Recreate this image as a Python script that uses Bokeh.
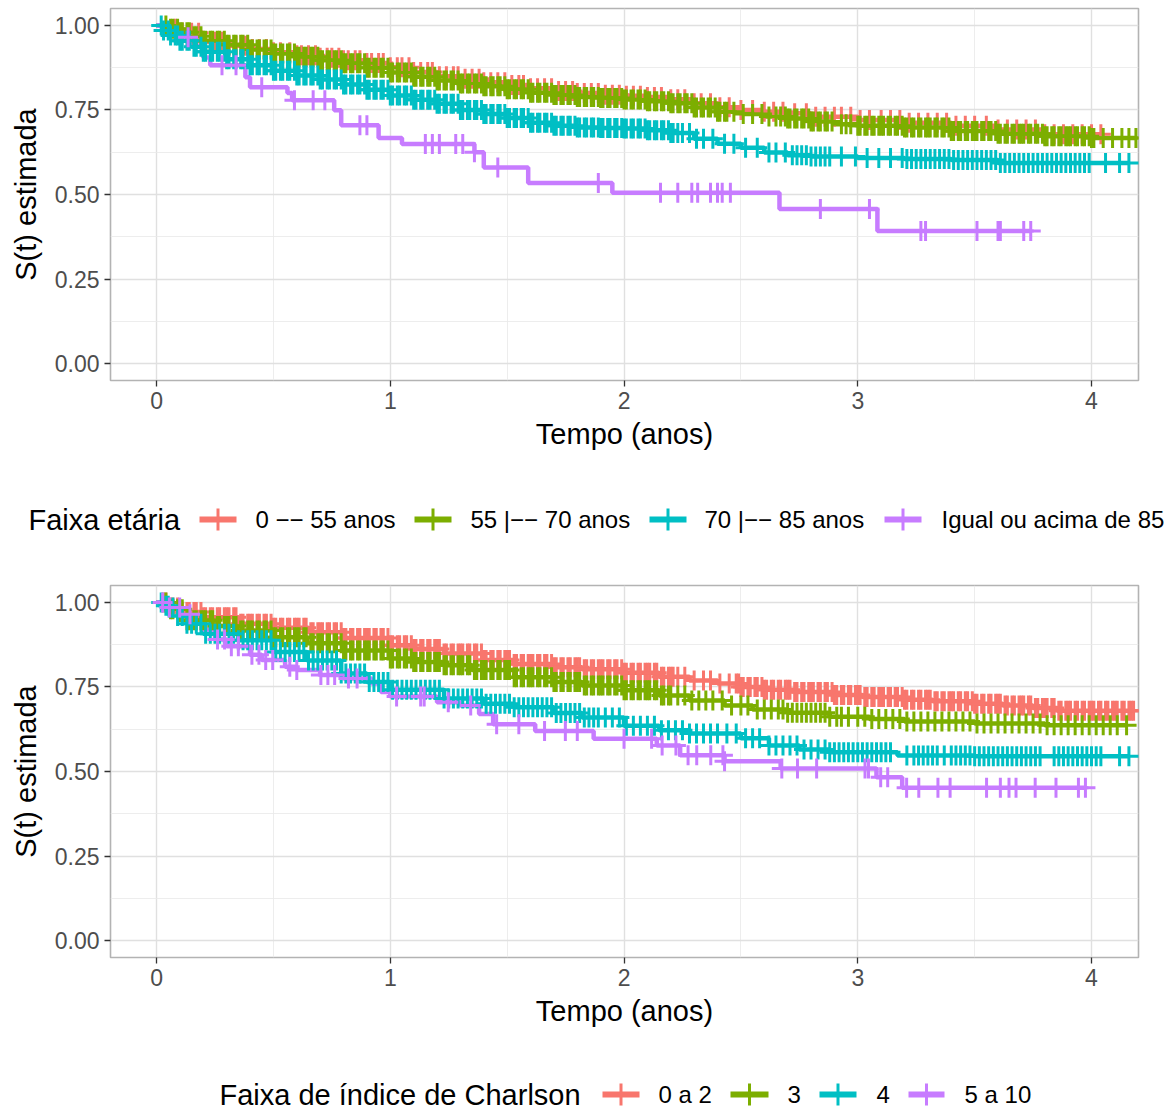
import numpy as np
from bokeh.plotting import figure
from bokeh.models import Range1d, FixedTicker, NumeralTickFormatter
from bokeh.layouts import column
from bokeh.embed import file_html
from bokeh.resources import INLINE
from bokeh.core.properties import value

FONT = "Liberation Sans"
COLORS = ["#F8766D", "#7CAE00", "#00BFC4", "#C77CFF"]

X_TICKS = [0, 1, 2, 3, 4]
Y_TICKS = [0.0, 0.25, 0.5, 0.75, 1.0]

# ---------------- Panel 1: Faixa etária ----------------
AGE_TITLE = "Faixa etária"
AGE_LABELS = ["0 \u2212\u2212 55 anos", "55 |\u2212\u2212 70 anos", "70 |\u2212\u2212 85 anos",
              "Igual ou acima de 85 anos"]

R1_T = [0, 0.05, 0.1, 0.2, 0.3, 0.4, 0.5, 0.6, 0.7, 0.8, 0.9, 1.0, 1.1, 1.2, 1.3, 1.4, 1.5, 1.6, 1.7, 1.8,
        1.9, 2.0, 2.1, 2.2, 2.3, 2.4, 2.5, 2.6, 2.7, 2.8, 3.0, 3.2, 3.4, 3.6, 3.8]
R1_S = [1, 0.99, 0.978, 0.952, 0.94, 0.93, 0.921, 0.912, 0.904, 0.897, 0.889, 0.876, 0.862, 0.85, 0.842, 0.832,
        0.824, 0.814, 0.806, 0.8, 0.795, 0.792, 0.788, 0.782, 0.77, 0.758, 0.75, 0.745, 0.74, 0.73, 0.72, 0.712,
        0.703, 0.692, 0.678]
R1_END = 4.04
R1_C = [0.08, 0.11, 0.15, 0.18, 0.21, 0.25, 0.28, 0.31, 0.34, 0.38, 0.41, 0.44, 0.47, 0.5, 0.53, 0.57, 0.6, 0.62,
        0.65, 0.68, 0.7, 0.73, 0.75, 0.78, 0.8, 0.82, 0.85, 0.87, 0.9, 0.92, 0.95, 0.97, 1.0, 1.03, 1.05, 1.08,
        1.1, 1.13, 1.16, 1.18, 1.21, 1.24, 1.27, 1.29, 1.32, 1.35, 1.38, 1.4, 1.43, 1.46, 1.49, 1.52, 1.55, 1.57,
        1.6, 1.63, 1.66, 1.69, 1.72, 1.75, 1.78, 1.8, 1.83, 1.86, 1.89, 1.92, 1.95, 1.98, 2.01, 2.04, 2.07, 2.1,
        2.13, 2.16, 2.2, 2.23, 2.26, 2.3, 2.33, 2.37, 2.41, 2.45, 2.5, 2.55, 2.6, 2.64, 2.68, 2.73, 2.78, 2.82,
        2.86, 2.9, 2.93, 2.97, 3.01, 3.05, 3.1, 3.14, 3.18, 3.22, 3.26, 3.3, 3.34, 3.38, 3.42, 3.46, 3.5, 3.55,
        3.6, 3.64, 3.68, 3.72, 3.76, 3.8, 3.84, 3.88, 3.92, 3.96, 4.0, 4.04]

G1_T = [0, 0.05, 0.1, 0.15, 0.2, 0.3, 0.4, 0.5, 0.6, 0.7, 0.8, 0.9, 1.0, 1.1, 1.2, 1.3, 1.4, 1.5, 1.6, 1.7, 1.8,
        1.9, 2.0, 2.1, 2.2, 2.3, 2.4, 2.5, 2.6, 2.7, 2.8, 2.9, 3.0, 3.2, 3.4, 3.6, 3.8, 4.0]
G1_S = [1, 0.99, 0.98, 0.968, 0.955, 0.943, 0.929, 0.917, 0.907, 0.897, 0.888, 0.875, 0.861, 0.848, 0.837, 0.828,
        0.82, 0.811, 0.801, 0.794, 0.788, 0.785, 0.781, 0.776, 0.77, 0.757, 0.745, 0.738, 0.731, 0.725, 0.716,
        0.708, 0.703, 0.698, 0.688, 0.68, 0.672, 0.667]
G1_END = 4.19
G1_C = [0.04, 0.06, 0.07, 0.09,
        0.1, 0.11, 0.13, 0.14, 0.16, 0.17, 0.19, 0.2, 0.21, 0.23, 0.24, 0.26, 0.27, 0.29,
        0.3, 0.31, 0.33, 0.34, 0.36, 0.37, 0.39, 0.4, 0.41, 0.43, 0.44, 0.46, 0.47, 0.49,
        0.5, 0.51, 0.53, 0.54, 0.56, 0.57, 0.59, 0.6, 0.61, 0.63, 0.64, 0.66, 0.67, 0.69,
        0.7, 0.71, 0.73, 0.74, 0.76, 0.77, 0.79, 0.8, 0.81, 0.83, 0.84, 0.86, 0.87, 0.89,
        0.9, 0.91, 0.93, 0.94, 0.96, 0.97, 0.99, 1.0, 1.01, 1.03, 1.04, 1.06, 1.07, 1.09,
        1.1, 1.11, 1.13, 1.14, 1.16, 1.17, 1.19, 1.2, 1.21, 1.23, 1.24, 1.26, 1.27, 1.29,
        1.3, 1.31, 1.33, 1.34, 1.36, 1.37, 1.39, 1.4, 1.41, 1.43, 1.44, 1.46, 1.47, 1.49,
        1.5, 1.51, 1.53, 1.54, 1.56, 1.57, 1.59, 1.6, 1.61, 1.63, 1.64, 1.66, 1.67, 1.69,
        1.7, 1.71, 1.73, 1.74, 1.76, 1.77, 1.79, 1.8, 1.81, 1.83, 1.84, 1.86, 1.87, 1.89,
        1.9, 1.91, 1.93, 1.94, 1.96, 1.97, 1.99, 2.0, 2.01, 2.03, 2.04, 2.06, 2.07, 2.09,
        2.1, 2.11, 2.13, 2.14, 2.16, 2.17, 2.19, 2.2, 2.21, 2.23, 2.24, 2.26, 2.27, 2.29,
        2.3, 2.31, 2.33, 2.34, 2.36, 2.37, 2.39, 2.4, 2.41, 2.43, 2.44, 2.47, 2.51, 2.55, 2.59, 2.62, 2.65,
        2.67, 2.69, 2.7, 2.71, 2.73, 2.74, 2.76, 2.77, 2.79, 2.8, 2.81, 2.83, 2.84, 2.86, 2.87, 2.89, 2.93,
        2.95, 2.97, 3.0, 3.01, 3.03, 3.04, 3.06, 3.07, 3.09, 3.1, 3.11, 3.13, 3.14, 3.16, 3.17, 3.19,
        3.2, 3.21, 3.23, 3.24, 3.26, 3.27, 3.29, 3.3, 3.31, 3.33, 3.34, 3.36, 3.37, 3.39,
        3.4, 3.41, 3.43, 3.44, 3.46, 3.47, 3.49, 3.5, 3.51, 3.53, 3.54, 3.56, 3.57, 3.59,
        3.6, 3.61, 3.63, 3.64, 3.66, 3.67, 3.69, 3.7, 3.71, 3.73, 3.74, 3.76, 3.77, 3.79,
        3.8, 3.81, 3.83, 3.84, 3.86, 3.87, 3.89, 3.9, 3.91, 3.93, 3.94, 3.96, 3.97, 3.99,
        4.0, 4.01, 4.05, 4.09, 4.13, 4.16, 4.19]

T1_T = [0, 0.03, 0.06, 0.1, 0.15, 0.2, 0.3, 0.4, 0.5, 0.6, 0.7, 0.8, 0.9, 1.0, 1.1, 1.2, 1.3, 1.4, 1.5, 1.6, 1.7,
        1.8, 1.9, 2.0, 2.1, 2.2, 2.3, 2.4, 2.5, 2.6, 2.7, 2.8, 3.0, 3.2, 3.4, 3.6]
T1_S = [1, 0.985, 0.97, 0.955, 0.937, 0.922, 0.9, 0.882, 0.866, 0.852, 0.84, 0.825, 0.81, 0.793, 0.78, 0.768,
        0.75, 0.738, 0.726, 0.712, 0.703, 0.698, 0.697, 0.695, 0.69, 0.682, 0.665, 0.65, 0.638, 0.624, 0.616,
        0.612, 0.608, 0.605, 0.602, 0.593]
T1_END = 4.16
T1_C = [0.02, 0.03, 0.05, 0.06, 0.08, 0.09,
        0.1, 0.11, 0.13, 0.14, 0.16, 0.17, 0.19, 0.2, 0.21, 0.23, 0.24, 0.26, 0.27, 0.29,
        0.3, 0.31, 0.33, 0.34, 0.36, 0.37, 0.39, 0.4, 0.41, 0.43, 0.44, 0.46, 0.47, 0.49,
        0.5, 0.51, 0.53, 0.54, 0.56, 0.57, 0.59, 0.6, 0.61, 0.63, 0.64, 0.66, 0.67, 0.69,
        0.7, 0.71, 0.73, 0.74, 0.76, 0.77, 0.79, 0.8, 0.81, 0.83, 0.84, 0.86, 0.87, 0.89,
        0.9, 0.91, 0.93, 0.94, 0.96, 0.97, 0.99, 1.0, 1.01, 1.03, 1.04, 1.06, 1.07, 1.09,
        1.1, 1.11, 1.13, 1.14, 1.16, 1.17, 1.19, 1.2, 1.21, 1.23, 1.24, 1.26, 1.27, 1.29,
        1.3, 1.31, 1.33, 1.34, 1.36, 1.37, 1.39, 1.4, 1.41, 1.43, 1.44, 1.46, 1.47, 1.49,
        1.5, 1.51, 1.53, 1.54, 1.56, 1.57, 1.59, 1.6, 1.61, 1.63, 1.64, 1.66, 1.67, 1.69,
        1.7, 1.71, 1.73, 1.74, 1.76, 1.77, 1.79, 1.8, 1.81, 1.83, 1.84, 1.86, 1.87, 1.89,
        1.9, 1.91, 1.93, 1.94, 1.96, 1.97, 1.99, 2.0, 2.01, 2.03, 2.04, 2.06, 2.07, 2.09,
        2.1, 2.11, 2.13, 2.14, 2.16, 2.17, 2.19, 2.2, 2.21, 2.23, 2.25,
        2.28, 2.31, 2.34, 2.38, 2.43, 2.47, 2.52, 2.57, 2.62, 2.65, 2.69, 2.72, 2.74, 2.76, 2.78, 2.8,
        2.82, 2.84, 2.86, 2.88, 2.93, 2.99, 3.04, 3.09, 3.14, 3.19, 3.21, 3.23, 3.25, 3.27, 3.29, 3.31, 3.33, 3.35,
        3.37, 3.39, 3.41, 3.43, 3.45, 3.47, 3.49, 3.51, 3.53, 3.55, 3.57, 3.59, 3.61, 3.63, 3.65, 3.67, 3.69, 3.71,
        3.73, 3.75, 3.77, 3.79, 3.81, 3.83, 3.85, 3.87, 3.89, 3.91, 3.93, 3.95, 3.97, 3.99, 4.06, 4.12, 4.16]

P1_T = [0, 0.05, 0.1, 0.16, 0.2, 0.23, 0.38, 0.4, 0.56, 0.58, 0.76, 0.79, 0.95, 1.05, 1.36, 1.4, 1.59, 1.95,
        2.665, 3.084]
P1_S = [1, 0.985, 0.965, 0.94, 0.905, 0.882, 0.847, 0.817, 0.8, 0.779, 0.749, 0.705, 0.667, 0.649, 0.625, 0.58,
        0.534, 0.505, 0.457, 0.392]
P1_END = 3.74
P1_C = [0.135, 0.28, 0.34, 0.45, 0.59, 0.67, 0.72, 0.87, 0.9, 1.15, 1.18, 1.21, 1.28, 1.31, 1.36, 1.46, 1.89, 2.156,
        2.23, 2.29, 2.315, 2.37, 2.4, 2.42, 2.455, 2.84, 3.05, 3.27, 3.29, 3.51, 3.6, 3.61, 3.71, 3.74]

# ---------------- Panel 2: Faixa de índice de Charlson ----------------
CH_TITLE = "Faixa de índice de Charlson"
CH_LABELS = ["0 a 2", "3", "4", "5 a 10"]

R2_T = [0, 0.05, 0.1, 0.2, 0.35, 0.5, 0.65, 0.8, 1.0, 1.1, 1.23, 1.4, 1.53, 1.7, 1.82, 2.0, 2.15, 2.28, 2.4, 2.5,
        2.6, 2.73, 2.9, 3.02, 3.2, 3.32, 3.5, 3.62, 3.75, 3.855]
R2_S = [1, 0.985, 0.972, 0.956, 0.937, 0.925, 0.912, 0.895, 0.873, 0.862, 0.849, 0.83, 0.818, 0.808, 0.802, 0.792,
        0.78, 0.769, 0.76, 0.75, 0.742, 0.735, 0.726, 0.72, 0.712, 0.708, 0.7, 0.695, 0.688, 0.68]
R2_END = 4.18
R2_C = [0.03, 0.04, 0.06, 0.07, 0.09,
        0.1, 0.11, 0.13, 0.14, 0.16, 0.17, 0.19, 0.2, 0.21, 0.23, 0.24, 0.26, 0.27, 0.29,
        0.3, 0.31, 0.33, 0.34, 0.36, 0.37, 0.39, 0.4, 0.41, 0.43, 0.44, 0.46, 0.47, 0.49,
        0.5, 0.51, 0.53, 0.54, 0.56, 0.57, 0.59, 0.6, 0.61, 0.63, 0.64, 0.66, 0.67, 0.69,
        0.7, 0.71, 0.73, 0.74, 0.76, 0.77, 0.79, 0.8, 0.81, 0.83, 0.84, 0.86, 0.87, 0.89,
        0.9, 0.91, 0.93, 0.94, 0.96, 0.97, 0.99, 1.0, 1.01, 1.03, 1.04, 1.06, 1.07, 1.09,
        1.1, 1.11, 1.13, 1.14, 1.16, 1.17, 1.19, 1.2, 1.21, 1.23, 1.24, 1.26, 1.27, 1.29,
        1.3, 1.31, 1.33, 1.34, 1.36, 1.37, 1.39, 1.4, 1.41, 1.43, 1.44, 1.46, 1.47, 1.49,
        1.5, 1.51, 1.53, 1.54, 1.56, 1.57, 1.59, 1.6, 1.61, 1.63, 1.64, 1.66, 1.67, 1.69,
        1.7, 1.71, 1.73, 1.74, 1.76, 1.77, 1.79, 1.8, 1.81, 1.83, 1.84, 1.86, 1.87, 1.89,
        1.9, 1.91, 1.93, 1.94, 1.96, 1.97, 1.99, 2.0, 2.01, 2.03, 2.04, 2.06, 2.07, 2.09,
        2.1, 2.11, 2.13, 2.14, 2.16, 2.17, 2.19, 2.2, 2.21, 2.23,
        2.26, 2.3, 2.34, 2.37, 2.41, 2.45, 2.48, 2.49,
        2.5, 2.51, 2.53, 2.54, 2.56, 2.57, 2.59, 2.6, 2.61, 2.63, 2.64, 2.66, 2.67, 2.69,
        2.7, 2.71, 2.73, 2.74, 2.76, 2.77, 2.79, 2.8, 2.81, 2.83, 2.84, 2.86, 2.87, 2.89,
        2.9, 2.91, 2.93, 2.94, 2.96, 2.97, 2.99, 3.0, 3.01, 3.03, 3.04, 3.06, 3.07, 3.09,
        3.1, 3.11, 3.13, 3.14, 3.16, 3.17, 3.19, 3.2, 3.21, 3.23, 3.24, 3.26, 3.27, 3.29,
        3.3, 3.31, 3.33, 3.34, 3.36, 3.37, 3.39, 3.4, 3.41, 3.43, 3.44, 3.46, 3.47, 3.49,
        3.5, 3.51, 3.53, 3.54, 3.56, 3.57, 3.59, 3.6, 3.61, 3.63, 3.64, 3.66, 3.67, 3.69,
        3.7, 3.71, 3.73, 3.74, 3.76, 3.77, 3.79, 3.8, 3.81, 3.83, 3.84, 3.86, 3.87, 3.89,
        3.9, 3.91, 3.93, 3.94, 3.96, 3.97, 3.99, 4.0, 4.01, 4.03, 4.04, 4.06, 4.07, 4.09,
        4.1, 4.11, 4.13, 4.14, 4.16, 4.17, 4.18]

G2_T = [0, 0.05, 0.13, 0.25, 0.35, 0.5, 0.644, 0.8, 1.0, 1.1, 1.23, 1.35, 1.53, 1.7, 1.82, 2.0, 2.15, 2.28, 2.43,
        2.55, 2.7, 2.88, 3.05, 3.2, 3.5, 3.8]
G2_S = [1, 0.98, 0.947, 0.93, 0.917, 0.897, 0.879, 0.858, 0.834, 0.824, 0.814, 0.8, 0.779, 0.765, 0.754, 0.74,
        0.725, 0.71, 0.695, 0.683, 0.674, 0.662, 0.655, 0.648, 0.642, 0.637]
G2_END = 4.15
G2_C = [0.04, 0.06, 0.07, 0.09,
        0.1, 0.11, 0.13, 0.14, 0.16, 0.17, 0.19, 0.2, 0.21, 0.23, 0.24, 0.26, 0.27, 0.29,
        0.3, 0.31, 0.33, 0.34, 0.36, 0.37, 0.39, 0.4, 0.41, 0.43, 0.44, 0.46, 0.47, 0.49,
        0.5, 0.51, 0.53, 0.54, 0.56, 0.57, 0.59, 0.6, 0.61, 0.63, 0.64, 0.66, 0.67, 0.69,
        0.7, 0.71, 0.73, 0.74, 0.76, 0.77, 0.79, 0.8, 0.81, 0.83, 0.84, 0.86, 0.87, 0.89,
        0.9, 0.91, 0.93, 0.94, 0.96, 0.97, 0.99, 1.0, 1.01, 1.03, 1.04, 1.06, 1.07, 1.09,
        1.1, 1.11, 1.13, 1.14, 1.16, 1.17, 1.19, 1.2, 1.21, 1.23, 1.24, 1.26, 1.27, 1.29,
        1.3, 1.31, 1.33, 1.34, 1.36, 1.37, 1.39, 1.4, 1.41, 1.43, 1.44, 1.46, 1.47, 1.49,
        1.5, 1.51, 1.53, 1.54, 1.56, 1.57, 1.59, 1.6, 1.61, 1.63, 1.64, 1.66, 1.67, 1.69,
        1.7, 1.71, 1.73, 1.74, 1.76, 1.77, 1.79, 1.8, 1.81, 1.83, 1.84, 1.86, 1.87, 1.89,
        1.9, 1.91, 1.93, 1.94, 1.96, 1.97, 1.99, 2.0, 2.01, 2.03, 2.04, 2.06, 2.07, 2.09,
        2.1, 2.11, 2.13, 2.14, 2.16, 2.17, 2.19, 2.2,
        2.23, 2.26, 2.29, 2.32, 2.35, 2.38, 2.42, 2.46, 2.5, 2.53, 2.57, 2.6, 2.63, 2.66, 2.68, 2.7, 2.72,
        2.74, 2.76, 2.78, 2.8, 2.82, 2.84, 2.86, 2.88, 2.91, 2.93, 2.96, 3.0, 3.03, 3.06, 3.09, 3.12, 3.15, 3.18,
        3.21, 3.24, 3.27, 3.3, 3.33, 3.36, 3.39, 3.42, 3.45, 3.48, 3.51, 3.54, 3.57, 3.6, 3.63, 3.66, 3.69, 3.72,
        3.75, 3.78, 3.81, 3.84, 3.87, 3.9, 3.93, 3.96, 3.99, 4.02, 4.05, 4.08, 4.11, 4.15]

T2_T = [0, 0.03, 0.055, 0.09, 0.13, 0.2, 0.35, 0.5, 0.644, 0.79, 0.9, 1.0, 1.23, 1.4, 1.53, 1.7, 1.82, 2.0, 2.15,
        2.28, 2.5, 2.62, 2.75, 2.88, 3.17, 3.5]
T2_S = [1, 0.99, 0.985, 0.96, 0.937, 0.907, 0.888, 0.853, 0.828, 0.79, 0.765, 0.742, 0.716, 0.7, 0.69, 0.673,
        0.66, 0.635, 0.622, 0.612, 0.598, 0.577, 0.565, 0.557, 0.547, 0.545]
T2_END = 4.16
T2_C = [0.02, 0.04, 0.05, 0.07, 0.09, 0.11, 0.13, 0.15, 0.17, 0.19, 0.21, 0.23, 0.25, 0.27, 0.29, 0.31, 0.33, 0.35,
        0.37, 0.39, 0.41, 0.43, 0.45, 0.47, 0.49, 0.51, 0.53, 0.55, 0.57, 0.59, 0.61, 0.63, 0.65, 0.67, 0.69, 0.71,
        0.73, 0.75, 0.77, 0.79, 0.81, 0.83, 0.85, 0.87, 0.89, 0.91, 0.93, 0.95, 0.97, 0.99, 1.01, 1.03, 1.05, 1.07,
        1.09, 1.11, 1.13, 1.15, 1.17, 1.19, 1.21, 1.23, 1.25, 1.27, 1.29, 1.31, 1.33, 1.35, 1.37, 1.39, 1.41, 1.43,
        1.45, 1.47, 1.49, 1.51, 1.53, 1.55, 1.57, 1.59, 1.61, 1.63, 1.65, 1.67, 1.69, 1.71, 1.73, 1.75, 1.77, 1.79,
        1.81, 1.83, 1.85, 1.87, 1.89, 1.92, 1.95, 1.98, 2.01, 2.04, 2.07, 2.1, 2.13, 2.16, 2.19, 2.22, 2.25, 2.28,
        2.31, 2.34, 2.37, 2.4, 2.44, 2.48, 2.52, 2.55, 2.58, 2.62, 2.65, 2.68, 2.71, 2.74, 2.77, 2.8, 2.83, 2.86,
        2.88, 2.9, 2.92, 2.94, 2.96, 2.98, 3.0, 3.02, 3.04, 3.06, 3.08, 3.1, 3.12, 3.14, 3.21, 3.24, 3.26, 3.28,
        3.3, 3.32, 3.34, 3.37, 3.4, 3.42, 3.44, 3.46, 3.48, 3.5, 3.52, 3.54, 3.56, 3.58, 3.6, 3.62, 3.64, 3.66,
        3.68, 3.7, 3.72, 3.74, 3.76, 3.78, 3.84, 3.86, 3.88, 3.9, 3.92, 3.94, 3.96, 3.98, 4.0, 4.02, 4.04, 4.12,
        4.16]

P2_T = [0, 0.03, 0.1, 0.2, 0.25, 0.3, 0.4, 0.45, 0.55, 0.6, 0.7, 0.8, 0.92, 0.96, 1.0, 1.2, 1.3, 1.38, 1.44, 1.62,
        1.87, 2.14, 2.24, 2.43, 2.67, 3.08, 3.19]
P2_S = [1, 0.985, 0.965, 0.92, 0.89, 0.87, 0.845, 0.83, 0.81, 0.8, 0.785, 0.775, 0.76, 0.735, 0.722, 0.705, 0.695,
        0.67, 0.64, 0.62, 0.597, 0.577, 0.548, 0.53, 0.509, 0.483, 0.452]
P2_END = 3.974
P2_C = [0.026, 0.055, 0.099, 0.143, 0.261, 0.291, 0.32, 0.35, 0.408, 0.438, 0.467, 0.497, 0.57, 0.6, 0.703, 0.733,
        0.762, 0.821, 0.858, 1.027, 1.13, 1.145, 1.248, 1.344, 1.455, 1.55, 1.66, 1.749, 1.8, 2.0, 2.118, 2.163,
        2.222, 2.274, 2.311, 2.371, 2.423, 2.43, 2.675, 2.742, 2.824, 3.031, 3.046, 3.098, 3.128, 3.209, 3.261,
        3.343, 3.395, 3.551, 3.61, 3.647, 3.677, 3.759, 3.848, 3.944, 3.974]

PANEL1 = [(R1_T, R1_S, R1_END, R1_C), (G1_T, G1_S, G1_END, G1_C), (T1_T, T1_S, T1_END, T1_C),
          (P1_T, P1_S, P1_END, P1_C)]
PANEL2 = [(R2_T, R2_S, R2_END, R2_C), (G2_T, G2_S, G2_END, G2_C), (T2_T, T2_S, T2_END, T2_C),
          (P2_T, P2_S, P2_END, P2_C)]

W = 1164


def make_panel(series, top):
    p = figure(width=W, height=480, x_range=Range1d(-0.197, 4.201), y_range=Range1d(-0.05, 1.05),
               output_backend="svg", toolbar_location=None,
               min_border_left=110, min_border_right=26, min_border_top=top, min_border_bottom=100,
               background_fill_color="white", border_fill_color="white")
    # step curves
    for (t, s, end, c), col in zip(series, COLORS):
        p.step(list(t) + [end], list(s) + [s[-1]], mode="after", line_color=col, line_width=4.5)
    # censor marks on top
    for (t, s, end, c), col in zip(series, COLORS):
        tk = np.array(t, dtype=float)
        sk = np.array(s, dtype=float)
        ca = np.array(c, dtype=float)
        idx = np.searchsorted(tk, ca, side="right") - 1
        p.scatter(ca, sk[idx], marker="cross", size=20, line_color=col, line_width=3)

    xt = FixedTicker(ticks=X_TICKS, minor_ticks=[0.5, 1.5, 2.5, 3.5])
    yt = FixedTicker(ticks=Y_TICKS, minor_ticks=[0.125, 0.375, 0.625, 0.875])
    p.xaxis.ticker = xt
    p.yaxis.ticker = yt
    p.xgrid.ticker = xt
    p.ygrid.ticker = yt
    p.yaxis.formatter = NumeralTickFormatter(format="0.00")

    for g in (p.xgrid, p.ygrid):
        g.grid_line_color = "#e0e0e0"
        g.grid_line_width = 1.4
        g.minor_grid_line_color = "#e8e8e8"
        g.minor_grid_line_width = 0.8

    p.outline_line_color = "#b3b3b3"
    p.outline_line_width = 1.6

    for ax in (p.xaxis, p.yaxis):
        ax.axis_line_color = None
        ax.minor_tick_line_color = None
        ax.major_tick_line_color = "#333333"
        ax.major_tick_line_width = 1.3
        ax.major_tick_out = 6
        ax.major_tick_in = 0
        ax.major_label_text_font = FONT
        ax.major_label_text_font_size = "23px"
        ax.major_label_text_color = "#4d4d4d"
        ax.axis_label_text_font = FONT
        ax.axis_label_text_font_size = "29px"
        ax.axis_label_text_font_style = "normal"
        ax.axis_label_text_color = "black"
        ax.major_label_standoff = 5
    p.xaxis.axis_label = "Tempo (anos)"
    p.yaxis.axis_label = "S(t) estimada"
    p.xaxis.axis_label_standoff = 6
    p.yaxis.axis_label_standoff = 10
    return p


def make_legend(height, yc, title, title_x, labels, key_x0, key_x1, label_x):
    lf = figure(width=W, height=height, x_range=Range1d(0, W), y_range=Range1d(height, 0),
                x_axis_location=None, y_axis_location=None, min_border=0,
                outline_line_color=None, output_backend="svg", toolbar_location=None,
                background_fill_color="white", border_fill_color="white", frame_align=False)
    lf.grid.grid_line_color = None
    lf.text(x=[title_x], y=[yc], text=[title], text_font=value(FONT), text_font_size="29px",
            text_baseline="middle", text_align="left", text_color="black")
    ys = [yc] * len(labels)
    lf.segment(x0=key_x0, y0=ys, x1=key_x1, y1=ys, line_color=COLORS, line_width=6)
    xc = [(a + b) / 2 for a, b in zip(key_x0, key_x1)]
    lf.scatter(xc, ys, marker="cross", size=22, line_color=COLORS, line_width=3)
    lf.text(x=label_x, y=ys, text=labels, text_font=value(FONT), text_font_size="24px",
            text_baseline="middle", text_align="left", text_color="black")
    return lf


p1 = make_panel(PANEL1, 8)
l1 = make_legend(97, 39, AGE_TITLE, 28, AGE_LABELS,
                 [199, 414, 649, 884], [236, 451, 686, 921], [255, 470, 704, 941])
p2 = make_panel(PANEL2, 8)
l2 = make_legend(53, 37, CH_TITLE, 219, CH_LABELS,
                 [602, 730, 819, 908], [639, 768, 856, 944], [658, 787, 876, 964])

layout = column(p1, l1, p2, l2, spacing=0)
open("out.html", "w").write(file_html(layout, INLINE))
